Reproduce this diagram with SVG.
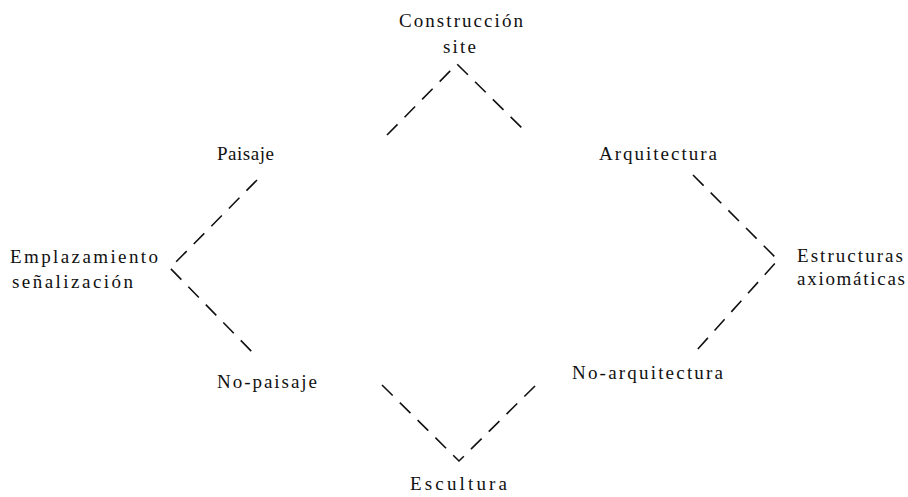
<svg xmlns="http://www.w3.org/2000/svg" width="908" height="497" viewBox="0 0 908 497">
<style>
.lbl{font-family:"Liberation Serif","Times New Roman",serif;font-size:19px;fill:#111}
.cn{fill:none;stroke:#111;stroke-width:1.6;stroke-dasharray:15 10}
</style>
<rect width="908" height="497" fill="#fff"/>
<g id="connectors">
<polyline class="cn" points="387,135 457,64 527,133"/>
<polyline class="cn" points="257,180 170,268 255,355"/>
<polyline class="cn" points="693,175 778,260 697,350"/>
<polyline class="cn" points="382,385 459,461 538,383"/>
</g>
<g id="construccion"><text class="lbl" x="399" y="27" textLength="124" lengthAdjust="spacing">Construcción</text><text class="lbl" x="443" y="53" textLength="33" lengthAdjust="spacing">site</text></g>
<g id="paisaje"><text class="lbl" x="217" y="160" textLength="57" lengthAdjust="spacing">Paisaje</text></g>
<g id="arquitectura"><text class="lbl" x="599" y="160" textLength="118" lengthAdjust="spacing">Arquitectura</text></g>
<g id="emplazamiento"><text class="lbl" x="10" y="263" textLength="148" lengthAdjust="spacing">Emplazamiento</text><text class="lbl" x="12" y="288" textLength="121" lengthAdjust="spacing">señalización</text></g>
<g id="estructuras"><text class="lbl" x="797" y="262" textLength="106" lengthAdjust="spacing">Estructuras</text><text class="lbl" x="797" y="285" textLength="108" lengthAdjust="spacing">axiomáticas</text></g>
<g id="nopaisaje"><text class="lbl" x="217" y="388" textLength="100" lengthAdjust="spacing">No-paisaje</text></g>
<g id="noarquitectura"><text class="lbl" x="572" y="379" textLength="151" lengthAdjust="spacing">No-arquitectura</text></g>
<g id="escultura"><text class="lbl" x="410" y="490" textLength="97" lengthAdjust="spacing">Escultura</text></g>
</svg>
